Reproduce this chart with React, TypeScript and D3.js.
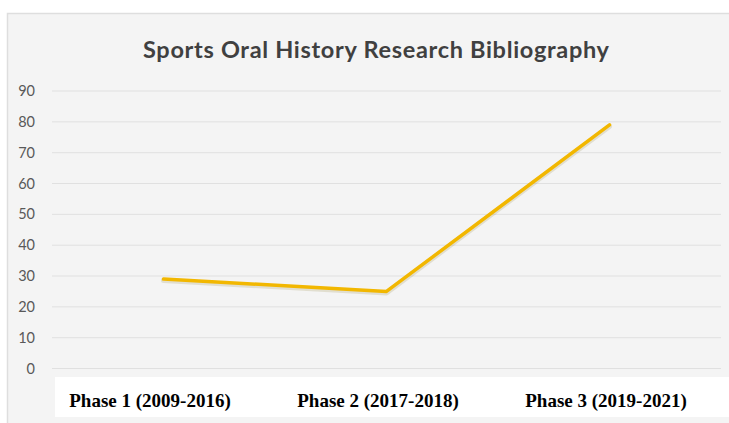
import React, { useEffect, useRef } from "react";
import * as d3 from "d3";

const categories = ["Phase 1 (2009-2016)", "Phase 2 (2017-2018)", "Phase 3 (2019-2021)"];
const values = [29, 25, 79];
const yTicks = [0, 10, 20, 30, 40, 50, 60, 70, 80, 90];
const title = "Sports Oral History Research Bibliography";

const W = 729;
const H = 423;

const App = () => {
  const svgRef = useRef<SVGSVGElement>(null);

  useEffect(() => {
    const svg = d3.select(svgRef.current);
    svg.selectAll("*").remove();

    const plot = { left: 52, right: 721, top: 91, bottom: 368.5 };

    // panel
    svg.append("rect")
      .attr("x", 7.5).attr("y", 13.5)
      .attr("width", W).attr("height", H)
      .attr("fill", "#f4f4f4")
      .attr("stroke", "#dedede")
      .attr("stroke-width", 1.5);

    svg.append("text")
      .attr("x", 143)
      .attr("y", 58)
      .attr("textLength", 466)
      .attr("lengthAdjust", "spacing")
      .style("font-family", "Lato, 'Open Sans', sans-serif")
      .style("font-weight", "bold")
      .style("font-size", "23.5px")
      .style("fill", "#404040")
      .text(title);

    const y = d3.scaleLinear().domain([0, 90]).range([plot.bottom, plot.top]);
    const x = d3.scaleBand().domain(categories).range([plot.left, plot.right]);

    // gridlines
    svg.append("g")
      .selectAll("line")
      .data(yTicks)
      .enter()
      .append("line")
      .attr("x1", plot.left)
      .attr("x2", plot.right)
      .attr("y1", (d) => y(d))
      .attr("y2", (d) => y(d))
      .attr("stroke", "#e0e0e0")
      .attr("stroke-width", 1);

    svg.append("g")
      .selectAll("text")
      .data(yTicks)
      .enter()
      .append("text")
      .attr("x", 35)
      .attr("y", (d) => y(d) + 5)
      .attr("text-anchor", "end")
      .style("font-family", "Lato, 'Open Sans', sans-serif")
      .style("font-size", "14.5px")
      .style("fill", "#595959")
      .text((d) => d);

    // white label strip
    svg.append("rect")
      .attr("x", 55).attr("y", 377)
      .attr("width", W - 55).attr("height", 40)
      .attr("fill", "#ffffff");

    const xl = d3.scalePoint().domain(categories).range([150, 606]);
    svg.append("g")
      .selectAll("text")
      .data(categories)
      .enter()
      .append("text")
      .attr("x", (d) => xl(d) as number)
      .attr("y", 407)
      .attr("text-anchor", "middle")
      .style("font-family", "'Liberation Serif', 'Times New Roman', serif")
      .style("font-weight", "bold")
      .style("font-size", "19px")
      .style("fill", "#000")
      .text((d) => d);

    const line = d3.line<number>()
      .x((d, i) => (x(categories[i]) as number) + x.bandwidth() / 2)
      .y((d) => y(d));

    svg.append("path")
      .datum(values)
      .attr("fill", "none")
      .attr("stroke", "rgba(120,100,0,0.15)")
      .attr("stroke-width", 5)
      .attr("stroke-linecap", "round")
      .attr("stroke-linejoin", "round")
      .attr("transform", "translate(0,1.5)")
      .attr("d", line);

    svg.append("path")
      .datum(values)
      .attr("fill", "none")
      .attr("stroke", "#f2b700")
      .attr("stroke-width", 3.5)
      .attr("stroke-linecap", "round")
      .attr("stroke-linejoin", "round")
      .attr("d", line);
  }, []);

  return (
    <svg
      ref={svgRef}
      width={W}
      height={H}
      style={{ position: "absolute", left: 0, top: 0, background: "#fff" }}
    />
  );
};

export default App;
